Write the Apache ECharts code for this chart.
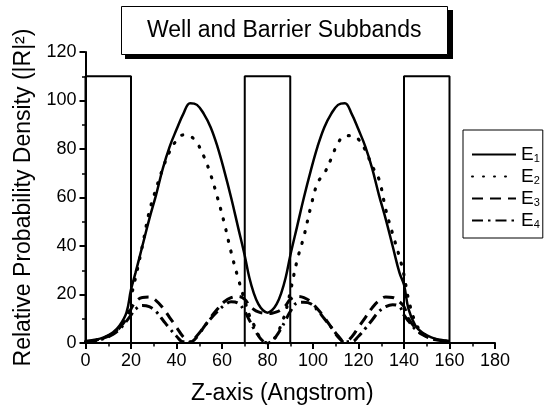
<!DOCTYPE html>
<html>
<head>
<meta charset="utf-8">
<script src="https://cdn.jsdelivr.net/npm/echarts@6/dist/echarts.min.js"></script>
<style>html,body{margin:0;padding:0;background:#fff}#c{width:546px;height:410px}</style>
</head>
<body>
<div id="c"></div>
<script>
// Z positions (Angstrom)
const zPos = [0,4,8,12,15,18,20,22,25,28,31,34,37,40,43,46,49,52,55,58,61,64,67,70,72,74,76,78,80,
  82,84,86,88,90,93,96,99,102,105,108,111,114,117,120,123,126,129,132,135,138,140,142,145,148,152,156,160];
const e1 = [0.8,1.3,2.3,4.3,7.2,12.5,22,29,40,51,61,72,81,88,94.5,98.9,98.2,94.5,89,81,71,60,48,36,27,20.5,16,13.5,12.5,
  13.5,16,20.5,27,36,48,60,71,81,89,94.5,98.2,98.9,94.5,88,81,72,61,51,40,29,24,14,7.2,4.3,2.3,1.3,0.8];
const e2 = [0.6,1.1,2.1,4,6.6,11.5,19,27,40,54,63.5,72,79,83.5,85.8,85.3,82.5,77,69.5,60,49.5,37.5,27,17.5,11.5,7.5,3.3,0.9,0,
  0.9,3.3,7.5,13,21,34,44,56,66,70,76,82.5,85.3,85.5,84,79.5,73,67.5,55,45,35.5,28,18,8.5,4.3,2.1,1.1,0.6];
const e3 = [0.5,1,2,3.8,6.3,10,14,17,18.8,19,17.5,14.5,10.5,6.5,2.5,0.3,2.5,6.5,10.5,14,17,18.7,19.2,18,15.5,13.8,12.8,12.3,12.2,
  12.3,12.8,13.8,15.5,18,19.2,18.7,17,14,10.5,6.5,2.5,0.3,2.5,6.5,10.5,14.5,17.5,19,18.8,17,15,10,6.3,3.8,2,1,0.5];
const e4 = [0.5,0.9,1.8,3.5,5.7,9,11.5,14,15.5,15,13,9.5,6,2.8,0.5,0.5,3,6.5,10,13,15.5,17,16.5,13,9.5,6,3,0.8,0,
  0.8,3,6,9.5,13,16.5,16.8,16.2,13.5,10,6.5,3,0.5,0.5,2.8,6,9.5,13,15,15.8,15,11.5,9,5.7,3.5,1.8,0.9,0.5];
// Barrier potential profile outline
const barrierZ = [0,0,20,20,70,70,90,90,140,140,160,160];
const barrierV = [0,110,110,0,0,110,110,0,0,110,110,0];
const seriesNames = ['E1','E2','E3','E4'];
const xTicks = {min:0, max:180, step:20};
const yTicks = {min:0, max:120, step:20};

const FONT = 'Liberation Sans';
const pair = (xs, ys) => xs.map((x, i) => [x, ys[i]]);

const chart = echarts.init(document.getElementById('c'), null, {renderer:'canvas'});
const axisCommon = {
  axisLine: {show:true, onZero:false, lineStyle:{color:'#000', width:2}},
  axisTick: {show:true, inside:false, length:6, lineStyle:{color:'#000', width:2}},
  minorTick: {show:true, splitNumber:2, length:3.5, lineStyle:{color:'#000', width:1.5}},
  splitLine: {show:false},
  axisLabel: {color:'#000', fontSize:18, fontFamily:FONT},
  nameTextStyle: {color:'#000', fontSize:23, fontFamily:FONT}
};
const styles = [
  {type:'solid', width:2.5, cap:'butt'},
  {type:[1,10], width:3.2, cap:'round'},
  {type:[11,7], width:3, cap:'butt'},
  {type:[11,5,2.5,5], width:3, cap:'butt'}
];
const eData = [e1, e2, e3, e4];
const series = [{
  name:'barrier', type:'line', data: pair(barrierZ, barrierV), symbol:'none', smooth:false,
  lineStyle:{color:'#000', width:2}, itemStyle:{color:'#000'}, silent:true, z:1
}];
seriesNames.forEach((n, i) => series.push({
  name:n, type:'line', data: pair(zPos, eData[i]), symbol:'none', smooth:0.4,
  itemStyle:{color:'#000'},
  lineStyle:Object.assign({color:'#000'}, styles[i]), z:2
}));

chart.setOption({
  backgroundColor:'#fff',
  animation:false,
  graphic: [{
    type:'rect', left:125, top:10, z:1, silent:true,
    shape:{width:328, height:49}, style:{fill:'#000'}
  }],
  title: {
    text:'Well and Barrier Subbands', left:121, top:6, padding:[13,26],
    backgroundColor:'#fff', borderColor:'#000', borderWidth:1, z:10,
    textStyle:{color:'#000', fontSize:23, fontWeight:'normal', fontFamily:FONT}
  },
  grid: {left:85.5, right:51, top:52, bottom:66, containLabel:false},
  legend: {
    data: seriesNames, orient:'vertical', left:463, top:130,
    padding:[15,3,8,8], itemGap:3, itemWidth:44, itemHeight:14,
    borderColor:'#000', borderWidth:1, backgroundColor:'#fff',
    selectedMode:false,
    itemStyle:{opacity:0},
    formatter: name => '{e|E}{s|' + name.slice(1) + '}',
    textStyle: {color:'#000', fontFamily:FONT, rich:{
      e:{fontSize:19, lineHeight:20, fontFamily:FONT, color:'#000'},
      s:{fontSize:11, lineHeight:12, fontFamily:FONT, color:'#000', padding:[8,0,0,0]}
    }}
  },
  xAxis: Object.assign({}, axisCommon, {
    type:'value', min:xTicks.min, max:xTicks.max, interval:xTicks.step,
    name:'Z-axis (Angstrom)', nameLocation:'middle', nameGap:39,
    nameTextStyle: Object.assign({}, axisCommon.nameTextStyle, {padding:[0,16,0,0]}),
    axisLabel: Object.assign({}, axisCommon.axisLabel, {margin:9})
  }),
  yAxis: Object.assign({}, axisCommon, {
    type:'value', min:yTicks.min, max:yTicks.max, interval:yTicks.step,
    name:'Relative Probability Density (|R|²)', nameLocation:'middle', nameGap:47,
    axisLabel: Object.assign({}, axisCommon.axisLabel, {margin:9})
  }),
  series: series
});
</script>
</body>
</html>
